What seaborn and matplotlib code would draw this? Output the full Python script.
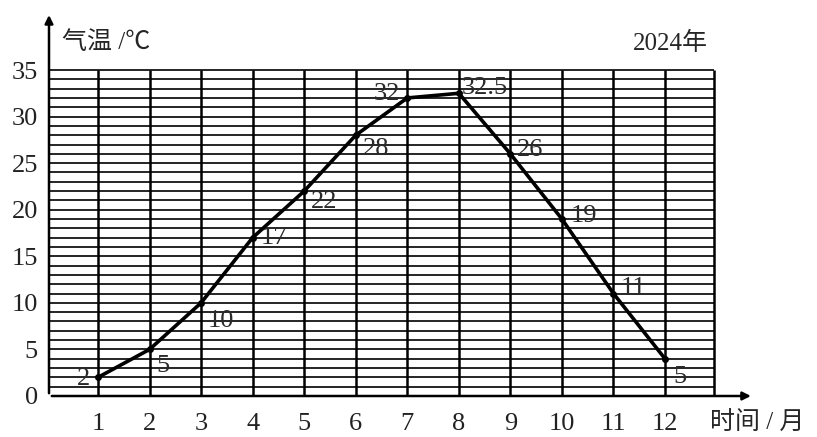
import pandas as pd
import numpy as np
import matplotlib
matplotlib.use("Agg")
import matplotlib.pyplot as plt
import seaborn as sns

months = [1, 2, 3, 4, 5, 6, 7, 8, 9, 10, 11, 12]
temps = [2, 5, 10, 17, 22, 28, 32, 32.5, 26, 19, 11, 4]
value_labels = ['2', '5', '10', '17', '22', '28', '32', '32.5', '26', '19', '11', '5']
yticks = [0, 5, 10, 15, 20, 25, 30, 35]
# label offsets in points (dx, dy) and alignment for each month
label_offsets = [(-6, -1, 'right'), (5, -12, 'left'), (5, -13, 'left'), (6, 0, 'left'),
                 (5, -8, 'left'), (5, -10, 'left'), (-5, 3, 'right'), (2, 4, 'left'),
                 (5, 3, 'left'), (6, 2, 'left'), (5, 4, 'left'), (6, -13, 'left')]

sns.set_style("white")
plt.rcParams['font.family'] = ['Liberation Serif', 'Noto Sans CJK SC']

df = pd.DataFrame({'month': months, 'temp': temps})

fig = plt.figure(figsize=(8.17, 4.37), dpi=100)
ax = fig.add_axes([49 / 817, 1 - 396 / 437, (765 - 49) / 817, (396 - 10) / 437])

x0, x_right = 0.05, 12.95
ax.set_xlim(x0, x0 + (765 - 49) / 51.55)
ax.set_ylim(0, (396 - 10) / 9.314)

# grid
ax.hlines(np.arange(1, 36), x0, x_right, color='black', lw=1.2, zorder=1)
ax.vlines(months + [x_right], 0, 35, color='black', lw=1.8, zorder=1)

sns.lineplot(data=df, x='month', y='temp', ax=ax, color='black', lw=2.6,
             marker='o', markersize=5, markeredgewidth=0, zorder=3)

for m, t, lab, (dx, dy, ha) in zip(months, temps, value_labels, label_offsets):
    ax.annotate(lab, (m, t), xytext=(dx, dy), textcoords='offset points',
                ha=ha, va='center', fontsize=19, color='#2a2a2a', zorder=4)

# axes with arrows
for s in ax.spines.values():
    s.set_visible(False)
ax.annotate('', xy=(13.72, 0), xytext=(x0, 0),
            arrowprops=dict(arrowstyle='-|>', color='black', lw=1.8, mutation_scale=12),
            annotation_clip=False)
ax.annotate('', xy=(x0, 41.2), xytext=(x0, 0),
            arrowprops=dict(arrowstyle='-|>', color='black', lw=1.8, mutation_scale=12),
            annotation_clip=False)

ax.set_xticks(months)
ax.set_xticklabels([str(m) for m in months], fontsize=19, color='#222222')
ax.set_yticks(yticks)
ax.set_yticklabels([str(v) for v in yticks], fontsize=19, color='#222222')
ax.tick_params(axis='x', length=0, pad=12)
ax.tick_params(axis='y', length=0, pad=8)
ax.set_xlabel('')
ax.set_ylabel('')

ax.text(0.3, 37.9, '气温 /℃', fontsize=18, va='center', ha='left', clip_on=False)
ax.text(11.38, 37.9, '2024年', fontsize=18, va='center', ha='left', clip_on=False)
ax.text(12.87, -2.9, '时间 / 月', fontsize=18, va='center', ha='left', clip_on=False)

fig.savefig('out.png', dpi=100)
